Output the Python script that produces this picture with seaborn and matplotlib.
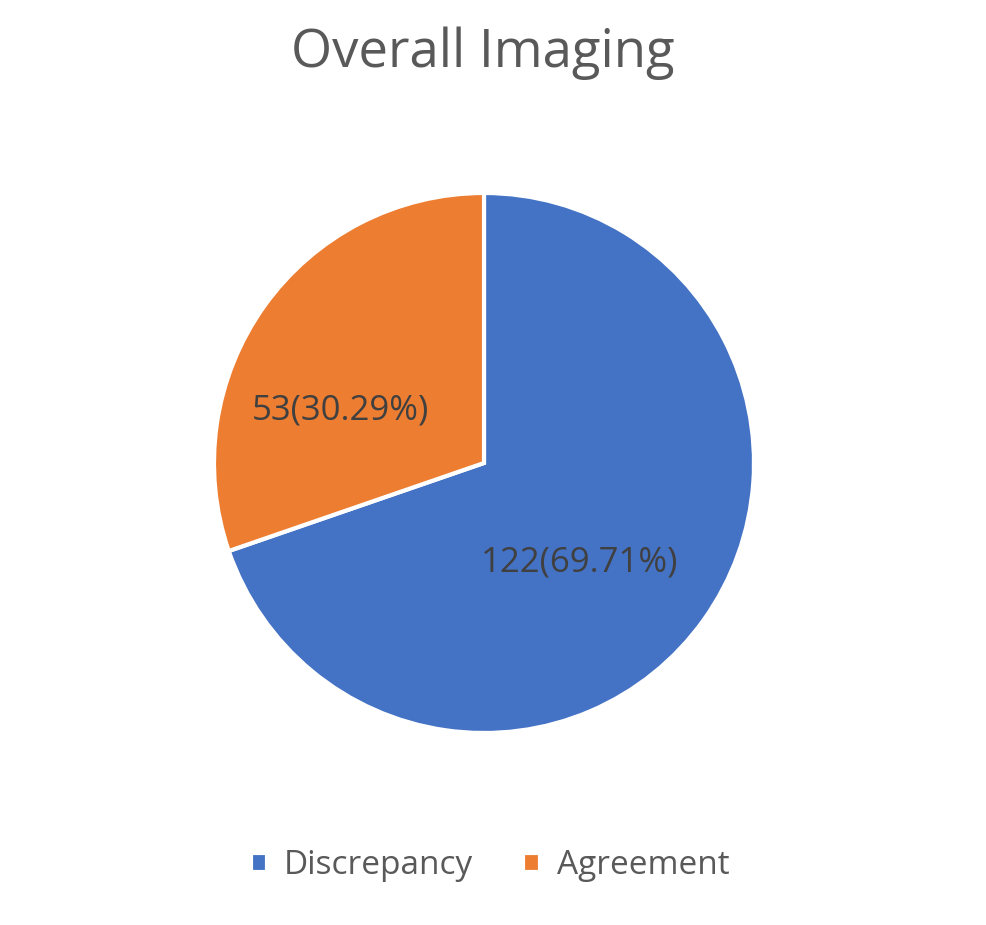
import matplotlib
matplotlib.use("Agg")
import matplotlib.pyplot as plt
import seaborn as sns

categories = ["Discrepancy", "Agreement"]
counts = [122, 53]
percents = [69.71, 30.29]
colors = ["#4472C4", "#ED7D31"]

sns.set_theme(style="white")
plt.rcParams['font.family'] = ['Open Sans', 'DejaVu Sans']
palette = sns.color_palette(colors)

W, H = 986, 925
fig = plt.figure(figsize=(W / 100, H / 100), dpi=100)
fig.patch.set_facecolor("white")

# pie centre ~ (484, 463) px, radius ~ 270 px
cx, cy, r = 484, 463, 270
ax = fig.add_axes([(cx - r) / W, (H - cy - r) / H, 2 * r / W, 2 * r / H])
wedges, _ = ax.pie(counts, colors=palette, startangle=90, counterclock=False,
                   wedgeprops=dict(edgecolor="white", linewidth=3), radius=1)
ax.set_xlim(-1, 1)
ax.set_ylim(-1, 1)
ax.set_aspect("equal")
ax.axis("off")

# label positions (Excel places them off the mid-angle)
label_pos = [(0.352, -0.367), (-0.533, 0.196)]
for (x, y), n, p in zip(label_pos, counts, percents):
    ax.text(x, y, f"{n}({p:.2f}%)", ha="center", va="center",
            fontsize=25, color="#404040")

fig.text(0.49, 1 - 53 / H, "Overall Imaging", ha="center", va="center",
         fontsize=38, color="#595959")

fig.legend(wedges, categories, loc="center", bbox_to_anchor=(0.497, 1 - 866 / H),
           ncol=2, frameon=False, fontsize=24, handlelength=0.5, handleheight=0.5,
           columnspacing=1.5, handletextpad=0.5, labelcolor="#595959")

fig.savefig("out.png", dpi=100, facecolor="white")
